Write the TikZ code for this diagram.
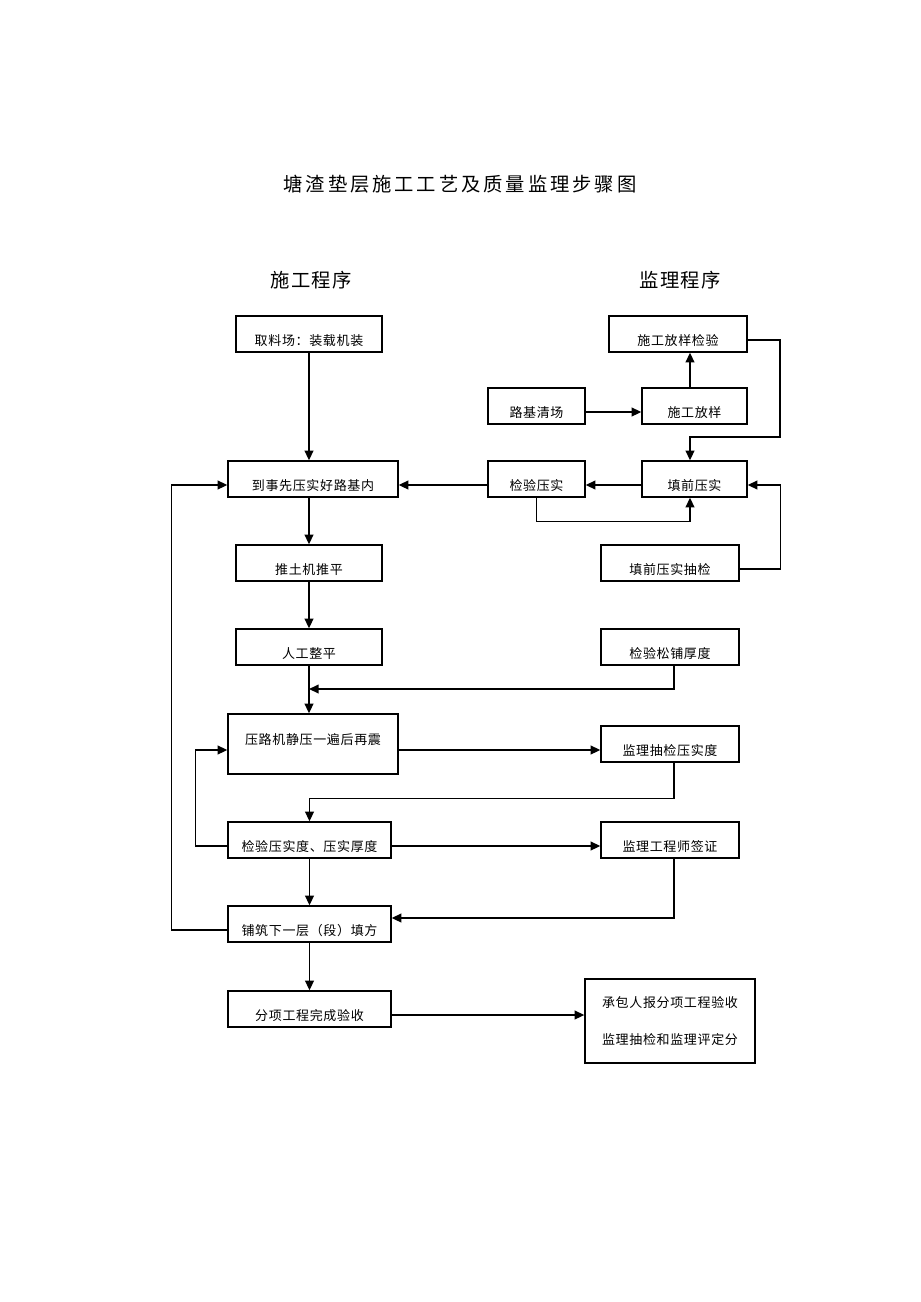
\documentclass[tikz,border=0pt]{standalone}
\usepackage{fontspec}
\usetikzlibrary{arrows.meta}
\newfontfamily\cjk[LetterSpace=5]{Noto Sans CJK SC}
\newfontfamily\cjkt[LetterSpace=6]{Noto Sans CJK SC}
\newfontfamily\cjktt[LetterSpace=15]{Noto Sans CJK SC}

\begin{document}
\begin{tikzpicture}[x=0.02cm,y=-0.02cm,
    box/.style={draw, line width=0.8pt, minimum height=0.72cm, inner sep=0pt,
        text height=13.6pt, text depth=0pt, font=\cjk\fontsize{7.4}{9}\selectfont},
    arr/.style={line width=0.8pt, -{Triangle[length=5.5pt,width=5pt]}},
    lo/.style={yshift=-0.12cm}]
        \useasboundingbox (0,0) rectangle (920,1302);

        % title and column heads
        \node[font=\cjktt\fontsize{11}{13}\selectfont] (title) at (460,184) {塘渣垫层施工工艺及质量监理步骤图};
        \node[font=\cjkt\fontsize{11}{13}\selectfont] (hd1) at (311,280) {施工程序};
        \node[font=\cjkt\fontsize{11}{13}\selectfont] (hd2) at (680,280) {监理程序};

        % construction side
        \node[box, minimum width=2.92cm] (qlc) at (309,334) {取料场：装载机装};
        \node[box, minimum width=3.4cm] (ljn) at (313,479) {到事先压实好路基内};
        \node[box, minimum width=2.92cm] (ttj) at (309,563) {推土机推平};
        \node[box, minimum width=2.92cm] (rgz) at (309,647) {人工整平};
        \node[box, minimum width=3.4cm, minimum height=1.2cm, text height=1pt] (ylj) at (313,744) {压路机静压一遍后再震};
        \node[box, minimum width=3.26cm] (jyh) at (309.5,840) {检验压实度、压实厚度};
        \node[box, minimum width=3.26cm] (pzx) at (309.5,924) {铺筑下一层（段）填方};
        \node[box, minimum width=3.26cm] (fxw) at (309.5,1009) {分项工程完成验收};

        % supervision side
        \node[box, minimum width=2.76cm] (fyj) at (678,334) {施工放样检验};
        \node[box, minimum width=1.94cm] (ljq) at (536.5,406) {路基清场};
        \node[box, minimum width=2.1cm] (sgf) at (694.5,406) {施工放样};
        \node[box, minimum width=1.94cm] (jyy) at (536.5,479) {检验压实};
        \node[box, minimum width=2.1cm] (tqy) at (694.5,479) {填前压实};
        \node[box, minimum width=2.76cm] (tqc) at (670,563) {填前压实抽检};
        \node[box, minimum width=2.76cm] (jys) at (670,647) {检验松铺厚度};
        \node[box, minimum width=2.76cm] (jlc) at (670,744) {监理抽检压实度};
        \node[box, minimum width=2.76cm] (jlq) at (670,840) {监理工程师签证};
        \node[draw, line width=0.8pt, minimum width=3.4cm, minimum height=1.68cm, align=center,
            font=\cjk\fontsize{7.4}{21.5}\selectfont] (cbr) at (670,1021) {承包人报分项工程验收\\监理抽检和监理评定分};

        % helper points
        \coordinate (rt) at (780,437);
        \coordinate (m1) at (309,689);

        % connectors
        \draw[arr] (qlc.south) -- (qlc.south |- ljn.north);
        \draw[arr] ([lo]ljq.east) -- ([lo]ljq.east -| sgf.west);
        \draw[arr] ([xshift=-0.09cm]sgf.north) -- ([xshift=-0.09cm]sgf.north |- fyj.south);
        \draw[arr] ([lo]fyj.east) -| (rt) -| ([xshift=-0.09cm]tqy.north);
        \draw[arr] ([lo]tqy.west) -- ([lo]jyy.east);
        \draw[arr] ([lo]jyy.west) -- ([lo]ljn.east);
        \draw[arr] (jyy.south) -- ++(0,24) -| ([xshift=-0.09cm]tqy.south);
        \draw[arr] ([lo]tqc.east) -- ++(41,0) |- ([lo]tqy.east);
        \draw[arr] (ljn.south -| ttj.north) -- (ttj.north);
        \draw[arr] (ttj) -- (rgz);
        \draw[arr] (rgz.south) -- (rgz.south |- ylj.north);
        \draw[arr] ([xshift=0.08cm]jys.south) |- (m1);
        \draw[arr] ([lo]ylj.east) -- ([lo]ylj.east -| jlc.west);
        \draw[arr] ([xshift=0.08cm]jlc.south) -- ++(0,36) -| (jyh.north);
        \draw[arr] ([lo]jyh.west) -- ++(-32,0) |- ([lo]ylj.west);
        \draw[arr] ([lo]jyh.east) -- ([lo]jyh.east -| jlq.west);
        \draw[arr] (jyh) -- (pzx);
        \draw[arr] ([xshift=0.08cm]jlq.south) |- ([yshift=0.12cm]pzx.east);
        \draw[arr] ([lo]pzx.west) -- ++(-56,0) |- ([lo]ljn.west);
        \draw[arr] (pzx) -- (fxw);
        \draw[arr] ([lo]fxw.east) -- ([lo]fxw.east -| cbr.west);
\end{tikzpicture}
\end{document}
